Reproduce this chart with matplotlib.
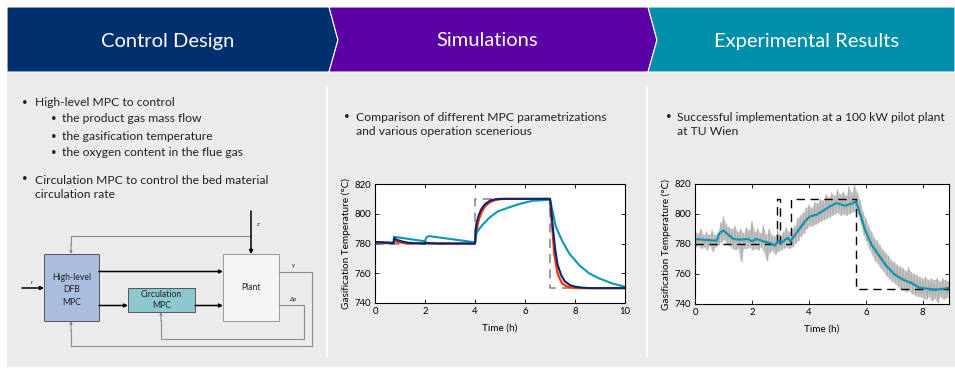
import matplotlib
matplotlib.use("Agg")
import matplotlib.pyplot as plt
from matplotlib.patches import Polygon, Rectangle

plt.rcParams['font.family'] = ['Lato', 'DejaVu Sans']

# header sections
sections = ["Control Design", "Simulations", "Experimental Results"]
section_colors = ["#00306E", "#5B00A6", "#008FAB"]

# bullet text
left_bullets = ["High-level MPC to control", "Circulation MPC to control the bed material\ncirculation rate"]
left_sub = ["the product gas mass flow", "the gasification temperature", "the oxygen content in the flue gas"]
mid_bullet = "Comparison of different MPC parametrizations\nand various operation scenerious"
right_bullet = "Successful implementation at a 100 kW pilot plant\nat TU Wien"

# simulation chart (time in h, temperature in degC)
sim_ref_t = [0, 4, 4, 7, 7, 10]
sim_ref = [780, 780, 810, 810, 750, 750]
sim_red_t = [0, 0.75, 0.76, 0.9, 1.2, 2.0, 2.02, 2.3, 4.0, 4.05, 4.15, 4.25, 4.4, 4.6, 4.8, 5.0, 5.2,
             7.0, 7.05, 7.1, 7.17, 7.3, 7.4, 7.5, 7.65, 7.8, 8.0, 10]
sim_red = [780.5, 780, 782, 781, 780.2, 780, 780.4, 780, 780, 788, 796, 800.5, 805, 807.8, 809.2, 809.8, 810,
           810, 798, 789, 773, 760, 756, 753, 751.3, 750.5, 750, 750]
sim_navy_t = [0, 0.75, 0.76, 0.9, 1.1, 1.3, 1.6, 2.0, 2.02, 2.2, 2.5, 4.0, 4.05, 4.15, 4.25, 4.4, 4.6, 4.8, 5.0,
              7.0, 7.05, 7.1, 7.2, 7.3, 7.45, 7.6, 7.8, 8.0, 8.3, 8.6, 10]
sim_navy = [781, 780.3, 783.5, 782.3, 781.3, 780.6, 780.2, 780, 780.6, 780.2, 780, 780, 793, 799, 803, 806.5,
            808.8, 809.7, 810, 810, 803, 793, 777, 766, 758.5, 754.5, 752, 751, 750.3, 750, 750]
sim_teal_t = [0, 0.75, 0.76, 2.0, 2.05, 2.15, 4.0, 4.05, 4.15, 4.3, 4.55, 4.9, 5.4, 5.8, 6.3, 7.0,
              7.1, 7.23, 7.5, 7.77, 8.17, 8.57, 8.97, 9.5, 10]
sim_teal = [781, 780.5, 784.5, 781.5, 784, 785, 780.8, 786.8, 789.5, 792.5, 797, 801.5, 804.5, 806.7, 808.7,
            809.4, 802, 791.4, 781.3, 773.3, 765.4, 759.9, 756.5, 753.1, 750.9]

# experimental chart
exp_ref_t = [0, 2.87, 2.87, 2.98, 2.98, 3.37, 3.37, 5.65, 5.65, 8.92]
exp_ref = [780, 780, 810, 810, 780, 780, 810, 810, 750, 750]
exp_filt_t = [0, 0.76, 0.86, 1.0, 1.17, 1.35, 1.58, 1.87, 1.99, 2.16, 2.4, 2.63, 2.8, 2.92, 3.04, 3.16, 3.27,
              3.35, 3.56, 3.86, 4.04, 4.27, 4.56, 4.74, 4.97, 5.26, 5.56, 5.65, 5.79, 5.97, 6.2, 6.44, 6.73,
              7.02, 7.31, 7.6, 7.9, 8.19, 8.42, 8.65, 8.92]
exp_filt = [783.3, 782.2, 787.3, 789, 786.2, 783.3, 782.9, 783.3, 781.8, 783.3, 781.8, 780.7, 778.9, 781.8,
            780.7, 782.9, 784, 781.8, 787.3, 795.1, 798.4, 799.5, 802.9, 805.1, 807.3, 805.5, 807.3, 808.4,
            800.7, 789.5, 779.5, 772.9, 765.1, 759.5, 756.2, 754, 750.7, 750.2, 749.5, 749.9, 750.7]
# raw measurement, read as alternating high / low samples every 0.1 h
exp_raw_t = [i / 10 for i in range(90)]
exp_raw_hi = [789, 787, 790, 786, 788, 786, 789, 786, 787, 794, 798, 793, 791, 790, 792, 788, 790, 787, 791, 789,
              795, 788, 790, 787, 792, 786, 790, 786, 785, 789, 786, 788, 791, 788, 790, 792, 797, 799, 801, 804,
              806, 804, 808, 807, 810, 809, 813, 811, 814, 812, 816, 813, 815, 812, 818, 814, 819, 814, 809, 801,
              797, 792, 788, 784, 782, 779, 776, 774, 772, 769, 768, 766, 765, 764, 762, 764, 761, 760, 759, 758,
              757, 758, 756, 757, 756, 757, 755, 757, 756, 755]
exp_raw_lo = [778, 779, 777, 778, 776, 779, 775, 778, 779, 781, 783, 780, 779, 777, 776, 777, 768, 777, 777, 778,
              776, 777, 776, 778, 775, 769, 774, 776, 773, 775, 776, 777, 778, 777, 778, 780, 782, 785, 787, 790,
              792, 792, 793, 794, 795, 796, 797, 798, 799, 800, 801, 799, 800, 799, 800, 801, 802, 800, 794, 786,
              782, 777, 773, 769, 767, 764, 762, 759, 757, 755, 754, 752, 750, 750, 748, 749, 747, 746, 745, 745,
              744, 743, 745, 742, 744, 741, 745, 743, 744, 745]

fig = plt.figure(figsize=(9.55, 3.69), dpi=100)
bg = fig.add_axes([0, 0, 1, 1])
bg.set_xlim(0, 955)
bg.set_ylim(369, 0)
bg.axis('off')

# grey panel and header chevrons
bg.add_patch(Rectangle((7, 72), 948, 295, facecolor="#EBEBEB", edgecolor="none"))
chev = [[(7, 7), (329, 7), (338, 40), (329, 72), (7, 72)],
        [(329, 7), (648, 7), (657, 40), (648, 72), (329, 72), (338, 40)],
        [(648, 7), (955, 7), (955, 72), (648, 72), (657, 40)]]
centers = [168, 487, 807]
for pts, col, name, cx in zip(chev, section_colors, sections, centers):
    bg.add_patch(Polygon(pts, closed=True, facecolor=col, edgecolor="white", lw=0.8))
    bg.text(cx, 41, name, color="white", fontsize=14.5, ha="center", va="center")
for xs in [327, 647]:
    bg.plot([xs, xs], [87, 356], color="white", lw=1.5)

# bullets
tk = dict(fontsize=8.7, color="#222222", va="center", linespacing=1.4)
bk = dict(fontsize=7, color="#222222", va="center")
bg.text(22, 102, "\u2022", **bk)
bg.text(35, 102, left_bullets[0], **tk)
for i, s in enumerate(left_sub):
    y = 119 + i * 17
    bg.text(51, y, "\u2022", **bk)
    bg.text(62, y, s, **tk)
bg.text(22, 179, "\u2022", **bk)
bg.text(35, 187.5, left_bullets[1], **tk)
bg.text(344, 116, "\u2022", **bk)
bg.text(356, 124.5, mid_bullet, **tk)
bg.text(666, 116, "\u2022", **bk)
bg.text(677, 124.5, right_bullet, **tk)

# block diagram
bg.add_patch(Rectangle((44, 254), 55, 67, facecolor="#A9BEDE", edgecolor="#555555", lw=0.7))
bg.add_patch(Rectangle((128, 288), 67, 24, facecolor="#8DC7D0", edgecolor="#555555", lw=0.7))
bg.add_patch(Rectangle((223, 254), 56, 67, facecolor="#F4F4F4", edgecolor="#999999", lw=0.7))
dk = dict(fontsize=6.2, color="#222222", ha="center", va="center")
bg.text(72, 290, "High-level\nDFB\nMPC", linespacing=1.5, **dk)
bg.text(161.5, 300, "Circulation\nMPC", linespacing=1.3, **dk)
bg.text(251, 288, "Plant", **dk)
sk = dict(fontsize=4.5, color="#222222", style="italic", ha="center", va="center")
bg.text(32, 283, "r", **sk)
bg.text(257, 224, "z", **sk)
bg.text(293, 266, "y", **sk)
bg.text(293, 299, "\u0394p", **sk)

blk = dict(arrowstyle="-|>", color="black", lw=1.1, mutation_scale=5, shrinkA=0, shrinkB=0)
gry = dict(arrowstyle="-|>", color="#8C8C8C", lw=0.8, mutation_scale=4, shrinkA=0, shrinkB=0)
bg.annotate("", xy=(44, 288), xytext=(22, 288), arrowprops=blk)
bg.annotate("", xy=(223, 271.5), xytext=(99, 271.5), arrowprops=blk)
bg.annotate("", xy=(128, 305.5), xytext=(99, 305.5), arrowprops=blk)
bg.annotate("", xy=(223, 305.5), xytext=(195, 305.5), arrowprops=blk)
bg.annotate("", xy=(251, 254), xytext=(251, 211), arrowprops=blk)
bg.plot([251, 71, 71], [236, 236, 245], color="#8C8C8C", lw=0.8)
bg.annotate("", xy=(71, 254), xytext=(71, 244), arrowprops=gry)
bg.plot([279, 312, 312, 71, 71], [271.5, 271.5, 346, 346, 330], color="#8C8C8C", lw=0.8)
bg.annotate("", xy=(71, 321), xytext=(71, 331), arrowprops=gry)
bg.plot([279, 304, 304, 161, 161], [305, 305, 339, 339, 320], color="#8C8C8C", lw=0.8)
bg.annotate("", xy=(161, 312), xytext=(161, 321), arrowprops=gry)


def style_axes(ax, xmax, xticks):
    ax.set_xlim(0, xmax)
    ax.set_ylim(740, 820)
    ax.set_xticks(xticks)
    ax.set_yticks([740, 760, 780, 800, 820])
    ax.tick_params(direction="in", top=True, right=True, length=3, width=0.6, labelsize=6.8, pad=3)
    for s in ax.spines.values():
        s.set_linewidth(0.8)
    ax.set_xlabel("Time (h)", fontsize=7.2, labelpad=5)
    ax.set_ylabel("Gasification Temperature (\u00b0C)", fontsize=7.2, labelpad=2)


ax1 = fig.add_axes([375 / 955, 1 - 303 / 369, 250 / 955, 119 / 369])
ax1.plot(sim_ref_t, sim_ref, color="#808080", lw=1.1, ls=(0, (6, 4)))
ax1.plot(sim_red_t, sim_red, color="#FF3300", lw=1.6)
ax1.plot(sim_teal_t, sim_teal, color="#0A98B0", lw=1.5)
ax1.plot(sim_navy_t, sim_navy, color="#0B2470", lw=1.5)
style_axes(ax1, 10, [0, 2, 4, 6, 8, 10])

ax2 = fig.add_axes([695 / 955, 1 - 304 / 369, 254 / 955, 120 / 369])
raw_t, raw_v = [], []
for t, hi, lo in zip(exp_raw_t, exp_raw_hi, exp_raw_lo):
    raw_t += [t, t + 0.05]
    raw_v += [hi, lo]
ax2.fill_between(exp_raw_t, exp_raw_lo, exp_raw_hi, color="#CDCDCD", lw=0)
ax2.plot(raw_t, raw_v, color="#B0B0B0", lw=0.8)
ax2.plot(exp_ref_t, exp_ref, color="black", lw=1.0, ls=(0, (6, 4)))
ax2.plot(exp_filt_t, exp_filt, color="#0A93AE", lw=1.5)
style_axes(ax2, 8.92, [0, 2, 4, 6, 8])

fig.savefig("out.png", dpi=100)
